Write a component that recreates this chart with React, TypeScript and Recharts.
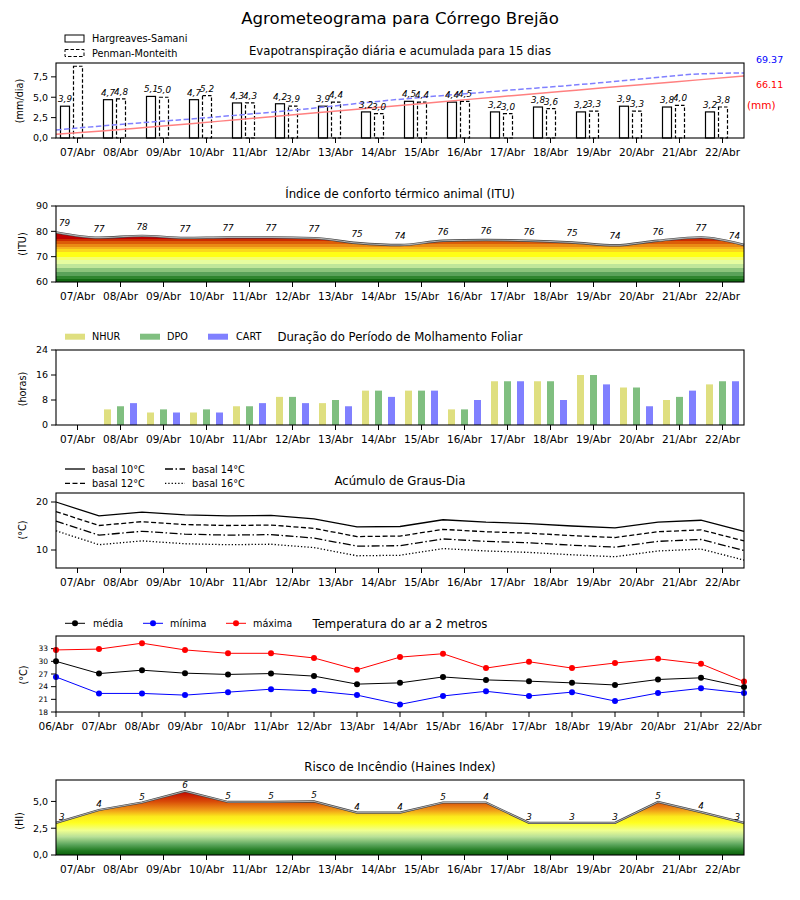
import {
	Area,
	Bar,
	ComposedChart,
	LabelList,
	Line,
	XAxis,
	YAxis,
} from "recharts"

const FONT = "'DejaVu Sans', sans-serif"
const WIDTH = 800
const PLOT_LEFT = 56
const PLOT_W = 688
const PAD_TOP = 10
const AXIS_H = 30
const BAR_SHIFT = -6.5

const days = ["07/Abr", "08/Abr", "09/Abr", "10/Abr", "11/Abr", "12/Abr", "13/Abr", "14/Abr", "15/Abr", "16/Abr", "17/Abr", "18/Abr", "19/Abr", "20/Abr", "21/Abr", "22/Abr"]
const tempDays = ["06/Abr", "07/Abr", "08/Abr", "09/Abr", "10/Abr", "11/Abr", "12/Abr", "13/Abr", "14/Abr", "15/Abr", "16/Abr", "17/Abr", "18/Abr", "19/Abr", "20/Abr", "21/Abr", "22/Abr"]

// evapotranspiração (mm/dia) e acumulada (mm)
const etHargreaves = [3.9, 4.7, 5.1, 4.7, 4.3, 4.2, 3.9, 3.2, 4.5, 4.4, 3.2, 3.8, 3.2, 3.9, 3.8, 3.2]
const etPenman = [8.8, 4.8, 5.0, 5.2, 4.3, 3.9, 4.4, 3.0, 4.4, 4.5, 3.0, 3.6, 3.3, 3.3, 4.0, 3.8]
const accHargreaves = [3.9, 7.5, 11.5, 15.5, 19.8, 24.0, 28.3, 32.6, 36.9, 41.2, 45.4, 49.6, 53.8, 57.9, 62.0, 66.11]
const accPenman = [8.5, 12.9, 16.8, 20.5, 24.6, 28.8, 33.8, 39.0, 43.5, 47.5, 51.5, 55.3, 59.5, 64.0, 68.3, 69.37]

// ITU
const ituValues = [79.6, 77.5, 78.2, 77.4, 77.6, 77.6, 77.3, 75.4, 74.6, 76.3, 76.6, 76.3, 75.6, 74.5, 76.3, 77.6, 74.6]
const ituLabels = [79, 77, 78, 77, 77, 77, 77, 75, 74, 76, 76, 76, 75, 74, 76, 77, 74]

// molhamento foliar (horas)
const nhur = [0, 5, 4, 4, 6, 9, 7, 11, 11, 5, 14, 14, 16, 12, 8, 13]
const dpo = [0, 6, 5, 5, 6, 9, 8, 11, 11, 5, 14, 14, 16, 12, 9, 14]
const cart = [0, 7, 4, 4, 7, 7, 6, 9, 11, 8, 14, 8, 13, 6, 11, 14]

// graus-dia
const basal10 = [20.0, 17.1, 17.9, 17.3, 17.1, 17.2, 16.5, 14.8, 14.9, 16.3, 15.8, 15.5, 15.0, 14.6, 15.8, 16.2, 13.9]
const basal12 = [18.0, 15.1, 15.9, 15.3, 15.1, 15.2, 14.5, 12.8, 12.9, 14.3, 13.8, 13.5, 13.0, 12.6, 13.8, 14.2, 11.9]
const basal14 = [16.0, 13.1, 13.9, 13.3, 13.1, 13.2, 12.5, 10.8, 10.9, 12.3, 11.8, 11.5, 11.0, 10.6, 11.8, 12.2, 9.9]
const basal16 = [14.0, 11.1, 11.9, 11.3, 11.1, 11.2, 10.5, 8.8, 8.9, 10.3, 9.8, 9.5, 9.0, 8.6, 9.8, 10.2, 7.9]

// temperatura do ar (°C)
const tMedia = [30.0, 27.1, 27.9, 27.2, 26.9, 27.1, 26.5, 24.6, 24.9, 26.3, 25.6, 25.3, 24.9, 24.4, 25.7, 26.1, 23.9]
const tMin = [26.3, 22.4, 22.4, 22.0, 22.7, 23.4, 23.0, 22.0, 19.8, 21.8, 22.9, 21.8, 22.7, 20.6, 22.5, 23.6, 22.5]
const tMax = [32.7, 32.9, 34.3, 32.7, 31.9, 31.9, 30.8, 28.0, 31.0, 31.8, 28.4, 29.9, 28.4, 29.6, 30.6, 29.4, 25.2]

// Haines
const hainesValues = [3.0, 4.2, 4.9, 5.95, 4.95, 4.95, 5.0, 3.95, 3.95, 4.9, 4.9, 3.0, 3.0, 3.0, 4.95, 4.0, 3.0]
const hainesLabels = [3, 4, 5, 6, 5, 5, 5, 4, 4, 5, 4, 3, 3, 3, 5, 4, 3]

const PANEL = {
	et: { top: 63, h: 75 },
	itu: { top: 206, h: 76 },
	molh: { top: 350, h: 75 },
	graus: { top: 493, h: 75 },
	temp: { top: 636, h: 76 },
	haines: { top: 780, h: 75 },
}

const ituBands: [number, number, string][] = [
	[77, 90, "#c00000"],
	[76, 77, "#cc2c00"],
	[75, 76, "#dc5c08"],
	[74, 75, "#ea8a14"],
	[73, 74, "#f5b41e"],
	[72, 73, "#fbd81c"],
	[70, 72, "#ffff14"],
	[68.5, 70, "#f6ff6e"],
	[67, 68.5, "#e6fca0"],
	[65.5, 67, "#c0e69a"],
	[64, 65.5, "#8cc47c"],
	[62.5, 64, "#5aa25a"],
	[61, 62.5, "#2f852f"],
	[60, 61, "#126a12"],
]

const hainesStops: [number, string][] = [
	[7, "#c00000"],
	[6, "#c00000"],
	[5, "#d84a08"],
	[4.2, "#f09a18"],
	[3.6, "#fbe81c"],
	[3, "#ffff20"],
	[2.3, "#f0ff90"],
	[1.7, "#b8e098"],
	[1, "#5fa85f"],
	[0.4, "#207a20"],
	[0, "#0b610b"],
]

const fmt1 = (v: number) => v.toFixed(1).replace(".", ",")
const midTicks = days.map((_, i) => i + 0.5)
const midFormat = (v: number) => days[Math.floor(v)]

const chartSize = (h: number) => ({
	width: WIDTH,
	height: h + PAD_TOP + AXIS_H,
	margin: { top: PAD_TOP, right: WIDTH - PLOT_LEFT - PLOT_W, bottom: 0, left: 0 },
})

const xAxisStyle = {
	tick: { fontSize: 10.5, fill: "#000" },
	tickSize: 5,
	tickMargin: 6,
	axisLine: false,
	tickLine: { stroke: "#000" },
	height: AXIS_H,
	interval: 0 as const,
}

const yAxisStyle = {
	tick: { fontSize: 9.5, fill: "#000" },
	tickSize: 5,
	tickMargin: 3,
	axisLine: false,
	tickLine: { stroke: "#000" },
	width: PLOT_LEFT,
	interval: 0 as const,
}

function Slot({ top, children }: { top: number; children: React.ReactNode }) {
	return <div style={{ position: "absolute", left: 0, top: top - PAD_TOP }}>{children}</div>
}

const barLabel = (props: any) => {
	const { x, y, width, value } = props
	if (value > 8.5) return null
	return (
		<text x={x + width / 2 + BAR_SHIFT} y={y - 4} textAnchor="middle" fontSize={8.8} fontStyle="italic" fill="#000">
			{fmt1(value)}
		</text>
	)
}

const shiftedBar = (dash?: string) => (props: any) => {
	const { x, y, width, height } = props
	if (!height) return <g />
	return (
		<rect x={x + BAR_SHIFT} y={y} width={width} height={height} fill="#fff" stroke="#000" strokeWidth={1.2} strokeDasharray={dash} />
	)
}

const pointLabel = (count: number, lift: number) => (props: any) => {
	const { x, y, value, index } = props
	const first = index === 0
	const last = index === count - 1
	return (
		<text
			x={first ? x + 3 : last ? x - 4 : x}
			y={y - lift}
			textAnchor={first ? "start" : last ? "end" : "middle"}
			fontSize={8.8}
			fontStyle="italic"
			fill="#000"
		>
			{value}
		</text>
	)
}

function EvapoChart() {
	const data = days.map((day, i) => ({
		day,
		hs: etHargreaves[i],
		pm: etPenman[i],
		k: i,
		hsAcc: accHargreaves[i],
		pmAcc: accPenman[i],
	}))
	return (
		<ComposedChart data={data} barGap={4} {...chartSize(PANEL.et.h)}>
			<XAxis dataKey="day" {...xAxisStyle} />
			<XAxis xAxisId="acc" dataKey="k" type="number" domain={[0, 15]} hide />
			<YAxis domain={[0, 9.2]} ticks={[0, 2.5, 5, 7.5]} tickFormatter={fmt1} {...yAxisStyle} />
			<YAxis yAxisId="acc" orientation="right" domain={[0, 80]} hide />
			<Bar dataKey="hs" barSize={9} shape={shiftedBar()} isAnimationActive={false}>
				<LabelList dataKey="hs" content={barLabel} />
			</Bar>
			<Bar dataKey="pm" barSize={9} shape={shiftedBar("3.5 2")} isAnimationActive={false}>
				<LabelList dataKey="pm" content={barLabel} />
			</Bar>
			<Line xAxisId="acc" yAxisId="acc" dataKey="hsAcc" type="monotone" stroke="#ff8080" strokeWidth={1.5} dot={false} isAnimationActive={false} />
			<Line xAxisId="acc" yAxisId="acc" dataKey="pmAcc" type="monotone" stroke="#8080ff" strokeWidth={1.5} strokeDasharray="5.5 2.5" dot={false} isAnimationActive={false} />
		</ComposedChart>
	)
}

function ItuChart() {
	const data = ituValues.map((v, i) => ({ x: i, itu: v, lbl: ituLabels[i] }))
	const off = (v: number) => (90 - v) / 30
	return (
		<ComposedChart data={data} {...chartSize(PANEL.itu.h)}>
			<defs>
				<linearGradient id="ituGrad" gradientUnits="userSpaceOnUse" x1="0" x2="0" y1={PAD_TOP} y2={PAD_TOP + PANEL.itu.h}>
					{ituBands.flatMap(([lo, hi, c]) => [
						<stop key={`${hi}a`} offset={off(hi)} stopColor={c} />,
						<stop key={`${lo}b`} offset={off(lo)} stopColor={c} />,
					])}
				</linearGradient>
			</defs>
			<XAxis dataKey="x" type="number" domain={[0, 16]} ticks={midTicks} tickFormatter={midFormat} {...xAxisStyle} />
			<YAxis domain={[60, 90]} ticks={[60, 70, 80, 90]} {...yAxisStyle} />
			<Area dataKey="itu" type="monotone" fill="url(#ituGrad)" fillOpacity={1} stroke="none" isAnimationActive={false} />
			<Line dataKey="itu" type="monotone" stroke="#444" strokeWidth={2.4} dot={false} isAnimationActive={false} />
			<Line dataKey="itu" type="monotone" stroke="#b0b0b0" strokeWidth={1.1} dot={false} isAnimationActive={false}>
				<LabelList dataKey="lbl" content={pointLabel(ituValues.length, 6)} />
			</Line>
		</ComposedChart>
	)
}

function MolhChart() {
	const data = days.map((day, i) => ({ day, nhur: nhur[i], dpo: dpo[i], cart: cart[i] }))
	return (
		<ComposedChart data={data} barGap={6} {...chartSize(PANEL.molh.h)}>
			<XAxis dataKey="day" {...xAxisStyle} />
			<YAxis domain={[0, 24]} ticks={[0, 8, 16, 24]} {...yAxisStyle} />
			<Bar dataKey="nhur" barSize={7} fill="#dfdf80" isAnimationActive={false} />
			<Bar dataKey="dpo" barSize={7} fill="#80bf80" isAnimationActive={false} />
			<Bar dataKey="cart" barSize={7} fill="#8080ff" isAnimationActive={false} />
		</ComposedChart>
	)
}

function GrausChart() {
	const data = basal10.map((v, i) => ({ x: i, b10: v, b12: basal12[i], b14: basal14[i], b16: basal16[i] }))
	return (
		<ComposedChart data={data} {...chartSize(PANEL.graus.h)}>
			<XAxis dataKey="x" type="number" domain={[0, 16]} ticks={midTicks} tickFormatter={midFormat} {...xAxisStyle} />
			<YAxis domain={[6.25, 21.875]} ticks={[10, 20]} allowDataOverflow {...yAxisStyle} />
			<Line dataKey="b10" stroke="#000" strokeWidth={1.3} dot={false} isAnimationActive={false} />
			<Line dataKey="b12" stroke="#000" strokeWidth={1.3} strokeDasharray="5 2.5" dot={false} isAnimationActive={false} />
			<Line dataKey="b14" stroke="#000" strokeWidth={1.3} strokeDasharray="8 2.5 1.5 2.5" dot={false} isAnimationActive={false} />
			<Line dataKey="b16" stroke="#000" strokeWidth={1.3} strokeDasharray="1.3 2" dot={false} isAnimationActive={false} />
		</ComposedChart>
	)
}

function TempChart() {
	const data = tMedia.map((v, i) => ({ x: i, med: v, min: tMin[i], max: tMax[i] }))
	const series: [string, string][] = [["med", "#000"], ["min", "#0000ff"], ["max", "#ff0000"]]
	return (
		<ComposedChart data={data} {...chartSize(PANEL.temp.h)}>
			<XAxis dataKey="x" type="number" domain={[0, 16]} ticks={tempDays.map((_, i) => i)} tickFormatter={(v: number) => tempDays[v]} {...xAxisStyle} />
			<YAxis domain={[18, 36]} ticks={[18, 21, 24, 27, 30, 33]} {...yAxisStyle} tick={{ fontSize: 7.5, fill: "#000" }} />
			{series.map(([key, color]) => (
				<Line
					key={key}
					dataKey={key}
					stroke={color}
					strokeWidth={1}
					dot={{ r: 3, fill: color, stroke: color, strokeWidth: 0 }}
					isAnimationActive={false}
				/>
			))}
		</ComposedChart>
	)
}

function HainesChart() {
	const data = hainesValues.map((v, i) => ({ x: i, hi: v, lbl: hainesLabels[i] }))
	return (
		<ComposedChart data={data} {...chartSize(PANEL.haines.h)}>
			<defs>
				<linearGradient id="hiGrad" gradientUnits="userSpaceOnUse" x1="0" x2="0" y1={PAD_TOP} y2={PAD_TOP + PANEL.haines.h}>
					{hainesStops.map(([v, c]) => (
						<stop key={v} offset={(7 - v) / 7} stopColor={c} />
					))}
				</linearGradient>
			</defs>
			<XAxis dataKey="x" type="number" domain={[0, 16]} ticks={midTicks} tickFormatter={midFormat} {...xAxisStyle} />
			<YAxis domain={[0, 7]} ticks={[0, 2.5, 5]} tickFormatter={fmt1} {...yAxisStyle} />
			<Area dataKey="hi" type="linear" fill="url(#hiGrad)" fillOpacity={1} stroke="none" isAnimationActive={false} />
			<Line dataKey="hi" stroke="#444" strokeWidth={2.2} dot={false} isAnimationActive={false} />
			<Line dataKey="hi" stroke="#b0b0b0" strokeWidth={1} dot={false} isAnimationActive={false}>
				<LabelList dataKey="lbl" content={pointLabel(hainesValues.length, 3)} />
			</Line>
		</ComposedChart>
	)
}

const yLabel = (text: string, cx: number, cy: number) => (
	<text transform={`rotate(-90 ${cx} ${cy})`} x={cx} y={cy} dy="0.35em" textAnchor="middle" fontSize={9.7}>
		{text}
	</text>
)

const title = (text: string, cy: number) => (
	<text x={400} y={cy + 4.2} textAnchor="middle" fontSize={11.7}>
		{text}
	</text>
)

function Overlay() {
	const frames = Object.values(PANEL)
	return (
		<svg width={WIDTH} height={900} style={{ position: "absolute", left: 0, top: 0, pointerEvents: "none" }} fontFamily={FONT}>
			{frames.map((p) => (
				<rect key={p.top} x={PLOT_LEFT} y={p.top} width={PLOT_W} height={p.h} fill="none" stroke="#000" strokeWidth={1.1} />
			))}
			<text x={400} y={24} textAnchor="middle" fontSize={16.6}>Agrometeograma para Córrego Brejão</text>

			{title("Evapotranspiração diária e acumulada para 15 dias", 51)}
			<rect x={65} y={35} width={19} height={7} fill="#fff" stroke="#000" strokeWidth={1} />
			<text x={92} y={42} fontSize={9.7}>Hargreaves-Samani</text>
			<rect x={65} y={49.5} width={19} height={7} fill="#fff" stroke="#000" strokeWidth={1} strokeDasharray="3.5 2" />
			<text x={92} y={56.5} fontSize={9.7}>Penman-Monteith</text>
			<text x={756} y={62.5} fontSize={9.5} fill="#0000ff">69.37</text>
			<text x={756} y={87.5} fontSize={9.5} fill="#ff0000">66.11</text>
			<text x={747} y={109} fontSize={10.5} fill="#ff0000">(mm)</text>
			{yLabel("(mm/dia)", 19.5, 101)}

			{title("Índice de conforto térmico animal (ITU)", 194)}
			{yLabel("(ITU)", 23, 244)}

			{title("Duração do Período de Molhamento Foliar", 337)}
			<rect x={65} y={333.7} width={20} height={6} fill="#dfdf80" />
			<text x={92} y={340.2} fontSize={9.7}>NHUR</text>
			<rect x={140} y={333.7} width={20} height={6} fill="#80bf80" />
			<text x={167} y={340.2} fontSize={9.7}>DPO</text>
			<rect x={208} y={333.7} width={20} height={6} fill="#8080ff" />
			<text x={236} y={340.2} fontSize={9.7}>CART</text>
			{yLabel("(horas)", 23, 389)}

			{title("Acúmulo de Graus-Dia", 481)}
			<line x1={65} x2={85} y1={469} y2={469} stroke="#000" strokeWidth={1.3} />
			<text x={92} y={472.5} fontSize={9.7}>basal 10°C</text>
			<line x1={65} x2={85} y1={483.3} y2={483.3} stroke="#000" strokeWidth={1.3} strokeDasharray="5 2.5" />
			<text x={92} y={486.8} fontSize={9.7}>basal 12°C</text>
			<line x1={165} x2={185} y1={469} y2={469} stroke="#000" strokeWidth={1.3} strokeDasharray="8 2.5 1.5 2.5" />
			<text x={192} y={472.5} fontSize={9.7}>basal 14°C</text>
			<line x1={165} x2={185} y1={483.3} y2={483.3} stroke="#000" strokeWidth={1.3} strokeDasharray="1.3 2" />
			<text x={192} y={486.8} fontSize={9.7}>basal 16°C</text>
			{yLabel("(°C)", 23, 530)}

			{title("Temperatura do ar a 2 metros", 624)}
			{([["média", "#000", 65, 93], ["mínima", "#0000ff", 143, 170], ["máxima", "#ff0000", 226, 253]] as [string, string, number, number][]).map(
				([name, color, lx, tx]) => (
					<g key={name}>
						<line x1={lx} x2={lx + 20} y1={623.3} y2={623.3} stroke={color} strokeWidth={1} />
						<circle cx={lx + 10} cy={623.3} r={3} fill={color} />
						<text x={tx} y={626.8} fontSize={9.7}>{name}</text>
					</g>
				)
			)}
			{yLabel("(°C)", 24, 675)}

			{title("Risco de Incêndio (Haines Index)", 767)}
			{yLabel("(HI)", 20, 821)}
		</svg>
	)
}

export default function App() {
	return (
		<div style={{ position: "absolute", left: 0, top: 0, width: WIDTH, height: 900, background: "#fff", fontFamily: FONT }}>
			<Slot top={PANEL.et.top}><EvapoChart /></Slot>
			<Slot top={PANEL.itu.top}><ItuChart /></Slot>
			<Slot top={PANEL.molh.top}><MolhChart /></Slot>
			<Slot top={PANEL.graus.top}><GrausChart /></Slot>
			<Slot top={PANEL.temp.top}><TempChart /></Slot>
			<Slot top={PANEL.haines.top}><HainesChart /></Slot>
			<Overlay />
		</div>
	)
}
